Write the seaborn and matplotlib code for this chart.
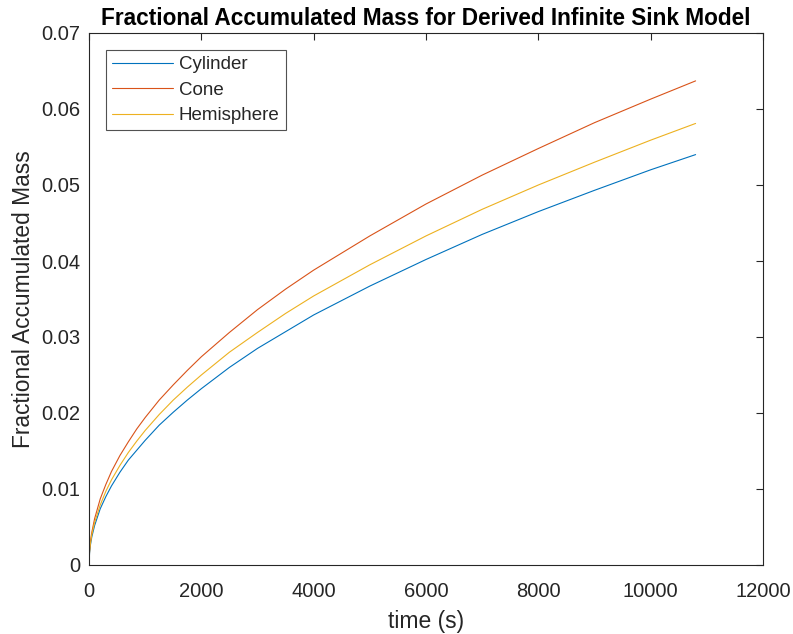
import numpy as np
import pandas as pd
import matplotlib
matplotlib.use("Agg")
import matplotlib.pyplot as plt
import seaborn as sns

time_s = [0, 10, 25, 50, 100, 200, 300, 400, 550, 700, 850, 1000, 1250, 1500, 1750,
          2000, 2500, 3000, 3500, 4000, 5000, 6000, 7000, 8000, 9000, 10000, 10800]
cylinder = [0, 0.0016, 0.0026, 0.0037, 0.0052, 0.0074, 0.0090, 0.0104, 0.0122,
            0.0138, 0.0151, 0.0164, 0.0184, 0.0201, 0.0217, 0.0232, 0.0260,
            0.0285, 0.0307, 0.0329, 0.0367, 0.0402, 0.0435, 0.0465, 0.0493,
            0.0520, 0.0540]
cone = [0, 0.0019, 0.0031, 0.0043, 0.0061, 0.0087, 0.0106, 0.0123, 0.0144,
        0.0162, 0.0179, 0.0194, 0.0217, 0.0237, 0.0256, 0.0274, 0.0306,
        0.0336, 0.0363, 0.0388, 0.0433, 0.0475, 0.0513, 0.0548, 0.0582,
        0.0613, 0.0637]
hemisphere = [0, 0.0018, 0.0028, 0.0040, 0.0056, 0.0079, 0.0097, 0.0112, 0.0131,
              0.0148, 0.0163, 0.0177, 0.0198, 0.0217, 0.0234, 0.0250, 0.0280,
              0.0306, 0.0331, 0.0354, 0.0395, 0.0433, 0.0468, 0.0500, 0.0530,
              0.0559, 0.0581]
series_names = ["Cylinder", "Cone", "Hemisphere"]
colors = ["#0072BD", "#D95319", "#EDB120"]
x_ticks = [0, 2000, 4000, 6000, 8000, 10000, 12000]
y_ticks = [0, 0.01, 0.02, 0.03, 0.04, 0.05, 0.06, 0.07]

df = pd.concat([
    pd.DataFrame({"time": time_s, "mass": vals, "series": name})
    for name, vals in zip(series_names, [cylinder, cone, hemisphere])
])

sns.set_theme(style="white")
plt.rcParams["font.family"] = ["Liberation Sans", "DejaVu Sans"]

fig = plt.figure(figsize=(7.93, 6.34), dpi=100)
ax = fig.add_axes([89/793, 1-565/634, (763-89)/793, (565-33)/634])

sns.lineplot(data=df, x="time", y="mass", hue="series", palette=colors,
             hue_order=series_names, linewidth=0.8, ax=ax, legend=True)

ax.set_xlim(0, 12000)
ax.set_ylim(0, 0.07)
ax.set_xticks(x_ticks)
ax.set_yticks(y_ticks)
ax.set_xticklabels([str(t) for t in x_ticks])
ax.set_yticklabels(["0"] + [f"{v:.2f}" for v in y_ticks[1:]])
ax.tick_params(direction="in", length=5, width=0.8, colors="#262626",
               labelsize=14.5, top=True, right=True, labelcolor="#262626")
ax.tick_params(axis="y", pad=6)
ax.tick_params(axis="x", pad=12)
for s in ax.spines.values():
    s.set_visible(True)
    s.set_color("#262626")
    s.set_linewidth(0.8)

ax.set_xlabel("time (s)", fontsize=16.5, color="#262626", labelpad=7)
ax.set_ylabel("Fractional Accumulated Mass", fontsize=16.4, color="#262626", labelpad=5)
ax.set_title("Fractional Accumulated Mass for Derived Infinite Sink Model",
             fontsize=16.3, fontweight="bold", color="black", pad=6)

leg = ax.legend(loc="upper left", bbox_to_anchor=(0.025, 0.968), fontsize=13.5,
                frameon=True, fancybox=False, edgecolor="#262626",
                handlelength=3.25, borderpad=0.32, labelspacing=0.45,
                handletextpad=0.32, borderaxespad=0)
leg.get_frame().set_linewidth(0.8)

fig.savefig("out.png", dpi=100, facecolor="white")
